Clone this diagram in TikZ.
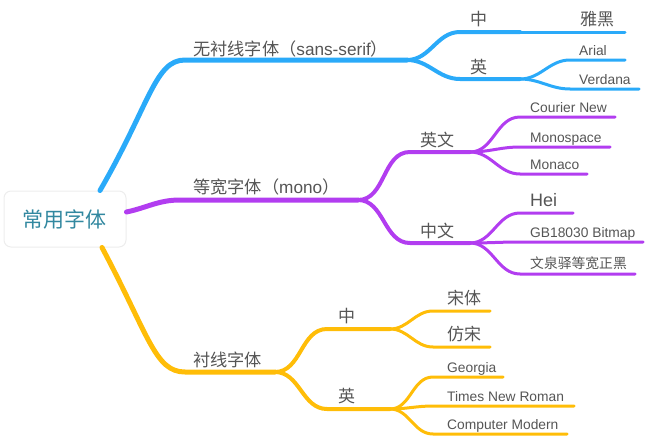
\documentclass[tikz,border=0pt]{standalone}
\usepackage{fontspec}
\setmainfont{Liberation Sans}
\newfontfamily\cjk{Noto Sans CJK SC}
\definecolor{mmblue}{HTML}{2AAAF9}
\definecolor{mmpurple}{HTML}{B23DF0}
\definecolor{mmyellow}{HTML}{FFBD08}
\definecolor{txtgray}{HTML}{555555}
\definecolor{rootteal}{HTML}{3288A0}
\newcommand\fsize[1]{\fontsize{#1}{#1}\selectfont}
\tikzset{
  rootbox/.style={draw=black!7, line width=1pt, fill=white, rounded corners=7pt,
    minimum width=122pt, minimum height=56pt, text=rootteal, font=\cjk\fsize{21}},
  trunk/.style={line width=5pt, line cap=round},
  twig/.style={line width=4pt, line cap=round},
  leaf/.style={line width=3pt, line cap=round},
  tag/.style={anchor=base west, inner sep=0pt, text=txtgray},
  bigtag/.style={tag, font=\cjk\fsize{17}},
  leaftag/.style={tag, font=\fsize{13.8}},
}
\begin{document}
\begin{tikzpicture}[x=1pt, y=-1pt]
    \useasboundingbox (0,0) rectangle (646,439);

    % root
    \node[rootbox] (root) at (65,219) {常用字体};

    % sans-serif branch
    \coordinate (b0) at ([xshift=35pt]root.north);
    \coordinate (b1) at (185,60);
    \coordinate (b2) at (407,60);
    \draw[trunk, mmblue] (b0) .. controls +(-60:100) and +(180:30) .. (b1) -- (b2);
    \node[tag, font=\fsize{17.2}] (sans) at (193,55) {{\cjk 无衬线字体（}sans-serif{\cjk ）}};
    \coordinate (bz1) at (460,32);
    \coordinate (bz2) at (520,32);
    \coordinate (yahei) at (625,32);
    \draw[twig, mmblue] (b2) to[out=0, in=180] (bz1) -- (bz2);
    \draw[leaf, mmblue] (bz2) -- (yahei);
    \node[bigtag] (bzh) at (470,26) {中};
    \node[bigtag] (yaheitxt) at (580,26) {雅黑};
    \coordinate (be1) at (460,79);
    \coordinate (be2) at (520,79);
    \draw[twig, mmblue] (b2) to[out=0, in=180] (be1) -- (be2);
    \node[bigtag] (ben) at (470,73) {英};
    \foreach \n/\yy/\xe/\txt in {arial/60/625/Arial, verdana/89/639/Verdana} {
        \coordinate (\n) at (570,\yy);
        \coordinate (\n end) at (\xe,\yy);
        \draw[leaf, mmblue] (be2) to[out=0, in=180] (\n) -- (\n end);
        \node[leaftag] (\n txt) at (579,\yy-4.5) {\txt};
    }

    % mono branch
    \coordinate (p0) at ([yshift=7pt]root.east);
    \coordinate (p1) at (180,200);
    \coordinate (p2) at (358,200);
    \draw[trunk, mmpurple] (p0) to[out=12, in=180] (p1) -- (p2);
    \node[tag, font=\fsize{17.2}] (mono) at (193,193.5) {{\cjk 等宽字体（}mono{\cjk ）}};
    \coordinate (pe1) at (410,152);
    \coordinate (pe2) at (470,152);
    \draw[twig, mmpurple] (p2) to[out=0, in=180] (pe1) -- (pe2);
    \node[bigtag] (pen) at (420,146) {英文};
    \foreach \n/\yy/\xe/\txt in {courier/117/615/Courier New, monospace/147/610/Monospace, monaco/174/587/Monaco} {
        \coordinate (\n) at (520,\yy);
        \coordinate (\n end) at (\xe,\yy);
        \draw[leaf, mmpurple] (pe2) to[out=0, in=180] (\n) -- (\n end);
        \node[leaftag] (\n txt) at (530,\yy-4.5) {\txt};
    }
    \coordinate (pz1) at (410,243);
    \coordinate (pz2) at (470,243);
    \draw[twig, mmpurple] (p2) to[out=0, in=180] (pz1) -- (pz2);
    \node[bigtag] (pzh) at (420,237) {中文};
    \foreach \n/\yy/\xe in {hei/213/573, gb/242/643, wqy/274/635} {
        \coordinate (\n) at (520,\yy);
        \coordinate (\n end) at (\xe,\yy);
        \draw[leaf, mmpurple] (pz2) to[out=0, in=180] (\n) -- (\n end);
    }
    \node[tag, font=\fsize{18}] (heitxt) at (530,206) {Hei};
    \node[leaftag] (gbtxt) at (530,237.5) {GB18030 Bitmap};
    \node[tag, font=\cjk\fsize{13.8}] (wqytxt) at (530,268) {文泉驿等宽正黑};

    % serif branch
    \coordinate (y0) at ([xshift=37pt]root.south);
    \coordinate (y1) at (185,372);
    \coordinate (y2) at (275,372);
    \draw[trunk, mmyellow] (y0) .. controls +(62:100) and +(180:30) .. (y1) -- (y2);
    \node[tag, font=\cjk\fsize{17.2}] (serif) at (193,366) {衬线字体};
    \coordinate (yz1) at (327,329);
    \coordinate (yz2) at (390,329);
    \draw[twig, mmyellow] (y2) to[out=0, in=180] (yz1) -- (yz2);
    \node[bigtag] (yzh) at (338,322) {中};
    \foreach \n/\yy/\txt in {song/311/宋体, fangsong/347/仿宋} {
        \coordinate (\n) at (433,\yy);
        \coordinate (\n end) at (490,\yy);
        \draw[leaf, mmyellow] (yz2) to[out=0, in=180] (\n) -- (\n end);
        \node[bigtag] (\n txt) at (447,\yy-7) {\txt};
    }
    \coordinate (ye1) at (327,409);
    \coordinate (ye2) at (390,409);
    \draw[twig, mmyellow] (y2) to[out=0, in=180] (ye1) -- (ye2);
    \node[bigtag] (yen) at (338,402) {英};
    \foreach \n/\yy/\xe/\txt in {georgia/377/503/Georgia, times/406/574/Times New Roman, cm/434/567/Computer Modern} {
        \coordinate (\n) at (433,\yy);
        \coordinate (\n end) at (\xe,\yy);
        \draw[leaf, mmyellow] (ye2) to[out=0, in=180] (\n) -- (\n end);
        \node[leaftag] (\n txt) at (447,\yy-4.5) {\txt};
    }

\end{tikzpicture}
\end{document}
